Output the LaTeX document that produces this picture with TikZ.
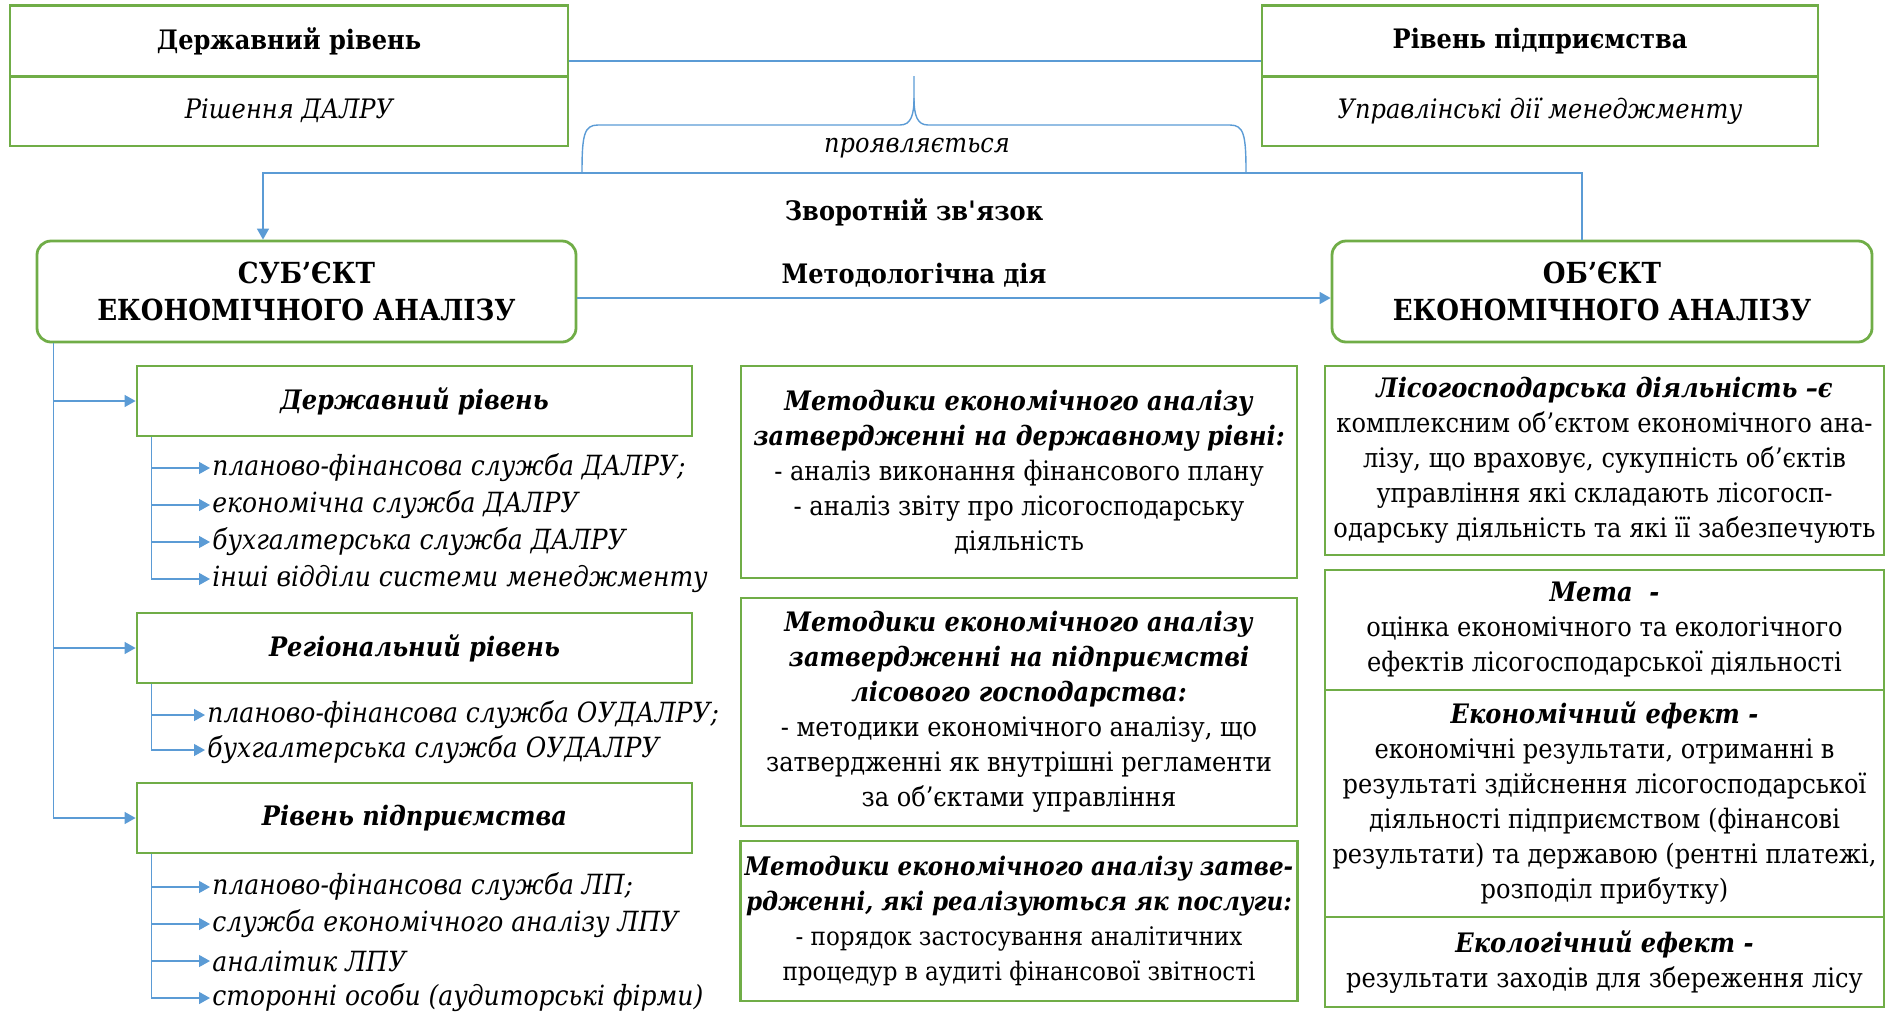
\documentclass[tikz,border=0pt]{standalone}
\usepackage{fontspec}
\setmainfont{DejaVu Serif}[FakeStretch=0.9]
\usetikzlibrary{arrows.meta,positioning,calc}
\definecolor{boxgreen}{HTML}{70AD47}
\definecolor{linkblue}{HTML}{5B9BD5}
\newcommand{\bodyfont}{\fontsize{13.4}{17.5}\selectfont}
\newcommand{\headfont}{\fontsize{14.5}{18.5}\selectfont\bfseries}
\newcommand{\hd}[1]{\textbf{\textit{#1}}}
\tikzset{
  box/.style={draw=boxgreen,line width=1.4pt,inner sep=2pt,align=center,font=\bodyfont},
  rbox/.style={box,rounded corners=7pt},
  link/.style={draw=linkblue,line width=0.7pt},
  flow/.style={link,-{Triangle[length=5.5pt,width=6pt]}},
  item/.style={anchor=west,inner sep=1pt,font=\fontsize{13.9}{17.5}\selectfont\itshape},
}

\begin{document}
\begin{tikzpicture}[x=0.5pt,y=-0.5pt]
  \useasboundingbox (0,0) rectangle (1894,1013);

  % levels of management at the top
  \node[box,minimum width=279pt,minimum height=35.5pt,font=\bodyfont\bfseries] (stHead) at (289,41) {Державний рівень};
  \node[box,minimum width=279pt,minimum height=35pt,font=\bodyfont\itshape] (stDec) at (289,111) {Рішення ДАЛРУ};
  \node[box,minimum width=278pt,minimum height=35.5pt,font=\bodyfont\bfseries] (entHead) at (1540,41) {Рівень підприємства};
  \node[box,minimum width=278pt,minimum height=35pt,font=\bodyfont\itshape] (entDec) at (1540,111) {Управлінські дії менеджменту};
  \draw[link] ([yshift=-10pt]stHead.east) -- ([yshift=-10pt]entHead.west);

  % brace
  \draw[link] (582,173) .. controls (582,135) and (584,125) .. (598,125) -- (900,125)
    .. controls (911,125) and (914,115) .. (914,98) -- (914,76);
  \draw[link] (914,98) .. controls (914,115) and (917,125) .. (928,125) -- (1230,125)
    .. controls (1244,125) and (1246,135) .. (1246,173);
  \node[font=\bodyfont\itshape] (shows) at (917,148) {проявляється};

  % subject and object
  \node[rbox,minimum width=269.5pt,minimum height=50.5pt,font=\headfont] (subj) at (306.5,291.5) {СУБ’ЄКТ\\ЕКОНОМІЧНОГО АНАЛІЗУ};
  \node[rbox,minimum width=270pt,minimum height=50.5pt,font=\headfont] (obj) at (1602,291.5) {ОБ’ЄКТ\\ЕКОНОМІЧНОГО АНАЛІЗУ};
  \node[font=\bodyfont\bfseries] (fbLabel) at (914,212) {Зворотній зв\textquotesingle язок};
  \node[font=\bodyfont\bfseries] (mdLabel) at (914,275) {Методологічна дія};
  \coordinate (fbL) at (263,173);
  \coordinate (fbR) at (1582,173);
  \draw[flow] (fbR |- obj.north) -- (fbR) -- (fbL) -- (fbL |- subj.north);
  \draw[flow] ([yshift=-3.25pt]subj.east) -- ([yshift=-3.25pt]obj.west);

  % subjects by level
  \node[box,minimum width=277.5pt,minimum height=35pt,font=\bodyfont\bfseries\itshape] (lvlA) at (414.5,401) {Державний рівень};
  \node[box,minimum width=277.5pt,minimum height=35pt,font=\bodyfont\bfseries\itshape] (lvlB) at (414.5,648) {Регіональний рівень};
  \node[box,minimum width=277.5pt,minimum height=35pt,font=\bodyfont\bfseries\itshape] (lvlC) at (414.5,818) {Рівень підприємства};
  \foreach \n in {lvlA,lvlB,lvlC}
    \draw[flow] ([xshift=9pt]subj.south west) |- (\n.west);

  \foreach \t [count=\i] in {планово-фінансова служба ДАЛРУ;, економічна служба ДАЛРУ,
      бухгалтерська служба ДАЛРУ, інші відділи системи менеджменту} {
    \node[item] (a\i) at (210,{431+37*\i}) {\t};
    \draw[flow] ([xshift=8pt]lvlA.south west) |- (a\i.west);
  }
  \foreach \t [count=\i] in {планово-фінансова служба ОУДАЛРУ;, бухгалтерська служба ОУДАЛРУ} {
    \node[item] (b\i) at (205,{680+35*\i}) {\t};
    \draw[flow] ([xshift=8pt]lvlB.south west) |- (b\i.west);
  }
  \foreach \t [count=\i] in {планово-фінансова служба ЛП;, служба економічного аналізу ЛПУ,
      аналітик ЛПУ, сторонні особи (аудиторські фірми)} {
    \node[item] (c\i) at (210,{850+37*\i}) {\t};
    \draw[flow] ([xshift=8pt]lvlC.south west) |- (c\i.west);
  }

  % methods
  \node[box,minimum width=278pt,minimum height=106pt] (metA) at (1019,472)
    {\hd{Методики економічного аналізу}\\\hd{затвердженні на державному рівні:}\\- аналіз виконання фінансового плану\\- аналіз звіту про лісогосподарську\\діяльність};
  \node[box,minimum width=278pt,minimum height=114pt] (metB) at (1019,712)
    {\hd{Методики економічного аналізу}\\\hd{затвердженні на підприємстві}\\\hd{лісового господарства:}\\- методики економічного аналізу, що\\затвердженні як внутрішні регламенти\\за об’єктами управління};
  \node[box,minimum width=278pt,minimum height=80pt,font=\fontsize{12.8}{17.5}\selectfont] (metC) at (1019,921)
    {\hd{Методики економічного аналізу затве-}\\\hd{рдженні, які реалізуються як послуги:}\\- порядок застосування аналітичних\\процедур в аудиті фінансової звітності};

  % object contents
  \node[box,minimum width=279.5pt,minimum height=94.5pt] (objA) at (1604.5,460.5)
    {\hd{Лісогосподарська діяльність –є}\\комплексним об’єктом економічного ана-\\лізу, що враховує, сукупність об’єктів\\управління які складають лісогосп-\\одарську діяльність та які її забезпечують};
  \node[box,minimum width=279.5pt,minimum height=60pt] (objB) at (1604.5,630)
    {\hd{Мета~ -}\\оцінка економічного та екологічного\\ефектів лісогосподарської діяльності};
  \node[box,minimum width=279.5pt,minimum height=113.5pt] (objC) at (1604.5,803.5)
    {\hd{Економічний ефект -}\\економічні результати, отриманні в\\результаті здійснення лісогосподарської\\діяльності підприємством (фінансові\\результати) та державою (рентні платежі,\\розподіл прибутку)};
  \node[box,minimum width=279.5pt,minimum height=45pt] (objD) at (1604.5,962)
    {\hd{Екологічний ефект -}\\результати заходів для збереження лісу};
\end{tikzpicture}
\end{document}
